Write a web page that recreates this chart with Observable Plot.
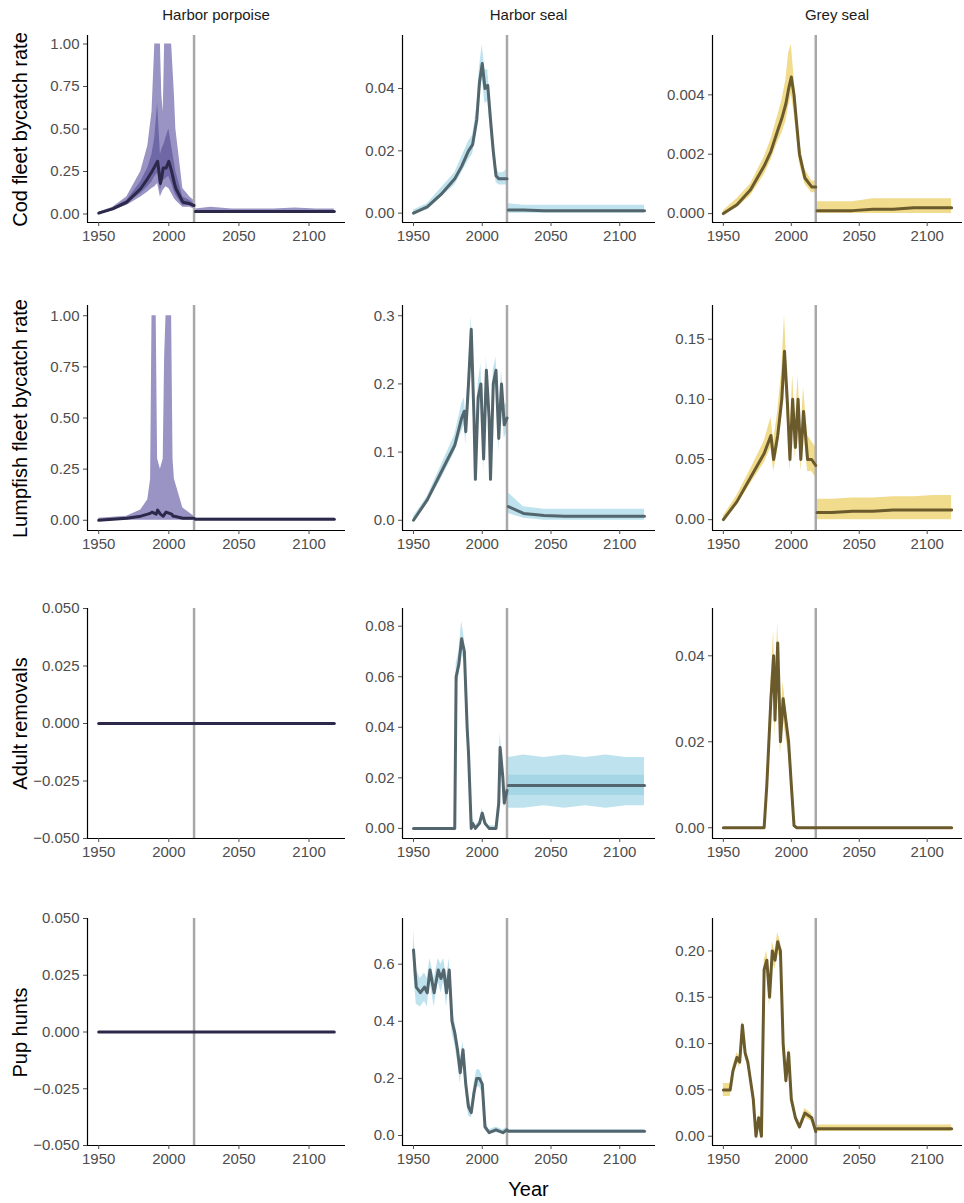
<!DOCTYPE html>
<html><head><meta charset="utf-8">
<script src="https://cdn.jsdelivr.net/npm/d3@7"></script>
<script src="https://cdn.jsdelivr.net/npm/@observablehq/plot@0.6"></script>
<style>
body{margin:0;background:#fff;font-family:"Liberation Sans",Arial,sans-serif;}
#wrap{position:relative;width:964px;height:1203px;}
.p{position:absolute;}
.p text{font-size:15px;fill:#4d4d4d;}
.t{position:absolute;font-size:15px;color:#1a1a1a;text-align:center;}
.yl{position:absolute;font-size:20px;color:#000;transform:rotate(-90deg);transform-origin:center;white-space:nowrap;text-align:center;}
</style></head><body><div id="wrap"></div>
<script>
// common year grids
const futYears = [2019, 2030, 2045, 2060, 2075, 2090, 2105, 2118];
const cutYear = 2018;

// Row 1: cod fleet bycatch rate
const codPorpYears = [1950,1960,1970,1980,1985,1988,1990,1992,1994,1995,1996,1997,1998,2000,2002,2004,2005,2010,2015,2018];
const codPorpMed  = [0.005,0.03,0.07,0.15,0.21,0.25,0.28,0.31,0.18,0.22,0.27,0.27,0.27,0.31,0.25,0.18,0.15,0.07,0.06,0.05];
const codPorpHi   = [0.01,0.04,0.10,0.25,0.40,0.6,1,1,1,0.7,0.6,1,1,1,1,0.7,0.5,0.15,0.10,0.08];
const codPorpLo   = [0,0.02,0.05,0.10,0.13,0.15,0.16,0.18,0.10,0.12,0.14,0.15,0.16,0.15,0.12,0.09,0.08,0.04,0.04,0.03];
const codPorpHi2  = [0.008,0.035,0.08,0.19,0.27,0.35,0.45,0.65,0.35,0.38,0.40,0.42,0.45,0.50,0.40,0.3,0.25,0.10,0.08,0.06];
const codPorpLo2  = [0.002,0.025,0.06,0.12,0.16,0.19,0.22,0.24,0.14,0.17,0.20,0.2,0.21,0.22,0.18,0.13,0.11,0.05,0.05,0.04];
const codPorpFutMed = [0.015,0.015,0.015,0.015,0.015,0.015,0.015,0.015];
const codPorpFutHi  = [0.03,0.04,0.03,0.03,0.03,0.035,0.03,0.03];
const codPorpFutLo  = [0.008,0.008,0.008,0.008,0.008,0.008,0.008,0.008];

const codHsYears = [1950,1960,1970,1980,1985,1990,1993,1996,1998,2000,2002,2004,2006,2008,2010,2012,2015,2018];
const codHsMed = [0,0.002,0.006,0.011,0.015,0.020,0.022,0.030,0.042,0.048,0.040,0.041,0.030,0.020,0.012,0.011,0.011,0.011];
const codHsHi  = [0.001,0.003,0.008,0.013,0.018,0.023,0.025,0.034,0.047,0.054,0.046,0.046,0.035,0.024,0.015,0.013,0.013,0.014];
const codHsLo  = [0,0.001,0.005,0.009,0.013,0.017,0.019,0.026,0.038,0.043,0.035,0.036,0.026,0.017,0.010,0.009,0.009,0.009];
const codHsFutMed = [0.001,0.001,0.0008,0.0008,0.0008,0.0008,0.0008,0.0008];
const codHsFutHi  = [0.003,0.0025,0.0025,0.0025,0.0025,0.0025,0.0025,0.0025];
const codHsFutLo  = [0,0,0,0,0,0,0,0];

const codGsYears = [1950,1960,1970,1980,1985,1990,1993,1996,1998,2000,2002,2004,2006,2010,2015,2018];
const codGsMed = [0,0.0003,0.0008,0.0016,0.0021,0.0028,0.0032,0.0037,0.0042,0.0046,0.0040,0.0030,0.0020,0.0012,0.0009,0.0009];
const codGsHi  = [0.0001,0.0005,0.0010,0.0019,0.0025,0.0033,0.0038,0.0045,0.0054,0.0057,0.0046,0.0035,0.0024,0.0015,0.0011,0.0011];
const codGsLo  = [0,0.0002,0.0006,0.0013,0.0018,0.0024,0.0027,0.0031,0.0036,0.0040,0.0034,0.0026,0.0017,0.0010,0.0007,0.0007];
const codGsFutMed = [0.0001,0.0001,0.0001,0.00015,0.00015,0.0002,0.0002,0.0002];
const codGsFutHi  = [0.0004,0.0004,0.0004,0.0005,0.0005,0.0005,0.0005,0.0005];
const codGsFutLo  = [0,0,0,0,0,0,0,0];

// Row 2: lumpfish fleet bycatch rate
const lumpPorpYears = [1950,1970,1980,1985,1987,1988,1991,1992,1994,1996,1997,1998,2002,2003,2004,2010,2018];
const lumpPorpMed = [0,0.01,0.02,0.03,0.035,0.04,0.03,0.05,0.03,0.02,0.03,0.04,0.03,0.02,0.02,0.01,0.01];
const lumpPorpHi  = [0.01,0.02,0.05,0.10,0.2,1,1,0.3,0.25,0.3,0.8,1,1,0.3,0.2,0.06,0.02];
const lumpPorpLo  = [0,0,0,0,0,0,0,0,0,0,0,0,0,0,0,0,0];
const lumpPorpFutMed = [0.005,0.005,0.005,0.005,0.005,0.005,0.005,0.005];
const lumpPorpFutHi  = [0.01,0.01,0.01,0.01,0.01,0.01,0.01,0.01];
const lumpPorpFutLo  = [0,0,0,0,0,0,0,0];

const lumpHsYears = [1950,1960,1970,1980,1985,1987,1988,1990,1992,1994,1995,1997,1999,2001,2003,2005,2006,2008,2010,2012,2014,2016,2018];
const lumpHsMed = [0,0.03,0.07,0.11,0.15,0.16,0.13,0.20,0.28,0.15,0.06,0.18,0.20,0.09,0.22,0.15,0.06,0.20,0.22,0.12,0.20,0.14,0.15];
const lumpHsHi  = [0.005,0.035,0.08,0.125,0.17,0.18,0.15,0.22,0.30,0.17,0.08,0.20,0.23,0.11,0.24,0.17,0.08,0.22,0.24,0.14,0.22,0.17,0.17];
const lumpHsLo  = [0,0.025,0.06,0.10,0.13,0.14,0.11,0.18,0.26,0.13,0.05,0.16,0.18,0.07,0.20,0.13,0.05,0.18,0.20,0.10,0.18,0.12,0.13];
const lumpHsFutMed = [0.02,0.01,0.007,0.006,0.006,0.006,0.006,0.006];
const lumpHsFutHi  = [0.04,0.02,0.016,0.016,0.016,0.016,0.016,0.016];
const lumpHsFutLo  = [0.01,0.003,0,0,0,0,0,0];

const lumpGsYears = [1950,1960,1970,1980,1985,1987,1990,1993,1995,1997,1999,2001,2003,2005,2007,2009,2012,2015,2018];
const lumpGsMed = [0,0.015,0.035,0.055,0.07,0.05,0.07,0.10,0.14,0.10,0.05,0.10,0.06,0.10,0.05,0.09,0.05,0.05,0.045];
const lumpGsHi  = [0.003,0.02,0.042,0.065,0.085,0.065,0.09,0.125,0.17,0.12,0.07,0.12,0.08,0.12,0.07,0.11,0.07,0.065,0.06];
const lumpGsLo  = [0,0.012,0.03,0.047,0.06,0.04,0.058,0.085,0.12,0.085,0.04,0.085,0.05,0.085,0.04,0.075,0.04,0.04,0.035];
const lumpGsFutMed = [0.006,0.006,0.007,0.007,0.008,0.008,0.008,0.008];
const lumpGsFutHi  = [0.017,0.017,0.018,0.018,0.019,0.019,0.02,0.02];
const lumpGsFutLo  = [0,0,0,0,0,0,0,0];

// Row 3: adult removals
const zeroYears = [1950, 2118];
const zeroMed = [0, 0];

const adHsYears = [1950,1980,1981,1983,1985,1987,1989,1990,1992,1993,1995,1998,2000,2002,2005,2010,2012,2013,2015,2016,2018];
const adHsMed = [0,0,0.06,0.065,0.075,0.07,0.04,0.03,0.0,0.002,0,0.002,0.006,0.002,0,0,0.01,0.032,0.02,0.01,0.015];
const adHsHi  = [0,0,0.065,0.07,0.082,0.075,0.045,0.034,0.002,0.004,0.001,0.003,0.008,0.003,0.001,0.001,0.013,0.038,0.024,0.013,0.018];
const adHsLo  = [0,0,0.055,0.06,0.07,0.065,0.035,0.026,0,0.001,0,0.001,0.004,0.001,0,0,0.008,0.028,0.017,0.008,0.012];
const adHsFutMed = [0.017,0.017,0.017,0.017,0.017,0.017,0.017,0.017];
const adHsFutHi  = [0.028,0.029,0.028,0.029,0.028,0.029,0.028,0.028];
const adHsFutLo  = [0.008,0.008,0.009,0.008,0.009,0.008,0.009,0.009];
const adHsFutHi2 = [0.021,0.021,0.021,0.021,0.021,0.021,0.021,0.021];
const adHsFutLo2 = [0.013,0.013,0.013,0.013,0.013,0.013,0.013,0.013];

const adGsYears = [1950,1980,1982,1985,1987,1988,1990,1992,1994,1996,1998,2000,2002,2004,2010,2118];
const adGsMed = [0,0,0.01,0.03,0.04,0.025,0.043,0.02,0.03,0.025,0.02,0.01,0.0005,0,0,0];
const adGsHi  = [0,0,0.012,0.034,0.046,0.03,0.048,0.024,0.034,0.028,0.023,0.012,0.001,0,0,0];
const adGsLo  = [0,0,0.008,0.026,0.035,0.021,0.038,0.017,0.026,0.021,0.017,0.008,0,0,0,0];

// Row 4: pup hunts
const pupHsYears = [1950,1952,1955,1958,1960,1962,1965,1968,1970,1972,1974,1976,1978,1980,1982,1984,1986,1988,1990,1992,1994,1996,1998,2000,2002,2005,2010,2015,2018];
const pupHsMed = [0.65,0.52,0.50,0.52,0.50,0.58,0.50,0.58,0.55,0.58,0.50,0.58,0.40,0.36,0.30,0.22,0.30,0.18,0.10,0.08,0.15,0.20,0.20,0.18,0.03,0.01,0.02,0.01,0.02];
const pupHsHi  = [0.72,0.58,0.55,0.57,0.55,0.62,0.55,0.62,0.60,0.62,0.55,0.62,0.44,0.40,0.34,0.26,0.33,0.21,0.13,0.10,0.18,0.23,0.23,0.21,0.05,0.02,0.03,0.02,0.03];
const pupHsLo  = [0.58,0.46,0.45,0.47,0.45,0.54,0.45,0.54,0.50,0.54,0.45,0.54,0.36,0.32,0.26,0.18,0.27,0.15,0.07,0.06,0.12,0.17,0.17,0.15,0.02,0.005,0.01,0.005,0.01];
const pupHsFutMed = [0.015,0.015,0.015,0.015,0.015,0.015,0.015,0.015];
const pupHsFutHi  = [0.02,0.02,0.02,0.02,0.02,0.02,0.02,0.02];
const pupHsFutLo  = [0.01,0.01,0.01,0.01,0.01,0.01,0.01,0.01];

const pupGsYears = [1950,1955,1957,1960,1962,1964,1966,1968,1970,1972,1974,1976,1978,1980,1982,1984,1986,1988,1990,1992,1994,1996,1998,2000,2003,2006,2010,2015,2018];
const pupGsMed = [0.05,0.05,0.07,0.085,0.08,0.12,0.09,0.08,0.06,0.04,0.0,0.02,0.0,0.18,0.19,0.15,0.20,0.19,0.21,0.20,0.10,0.06,0.09,0.04,0.02,0.01,0.025,0.02,0.005];
const pupGsHi  = [0.057,0.057,0.075,0.09,0.086,0.126,0.095,0.085,0.065,0.045,0.003,0.024,0.003,0.19,0.2,0.16,0.21,0.2,0.22,0.21,0.11,0.066,0.096,0.045,0.024,0.013,0.03,0.024,0.008];
const pupGsLo  = [0.043,0.043,0.065,0.08,0.074,0.114,0.085,0.075,0.055,0.035,0,0.016,0,0.17,0.18,0.14,0.19,0.18,0.2,0.19,0.09,0.054,0.084,0.035,0.016,0.007,0.02,0.016,0.002];
const pupGsFutMed = [0.008,0.008,0.008,0.008,0.008,0.008,0.008,0.008];
const pupGsFutHi  = [0.012,0.012,0.012,0.012,0.012,0.012,0.012,0.012];
const pupGsFutLo  = [0.005,0.005,0.005,0.005,0.005,0.005,0.005,0.005];

const colTitles = ["Harbor porpoise", "Harbor seal", "Grey seal"];
const rowLabels = ["Cod fleet bycatch rate", "Lumpfish fleet bycatch rate", "Adult removals", "Pup hunts"];

const pal = [
  {med: "#2b2849", b1: "#9994c4", b2: "#6e68a6"},
  {med: "#53666d", b1: "#bfe3ee", b2: "#a5d6e6"},
  {med: "#6b5b2c", b1: "#f1db8c", b2: "#e8c666"}
];

const rows = (xs, ...cols) => xs.map((x, i) => ({x, m: cols[0][i], lo: cols[1] ? cols[1][i] : null, hi: cols[2] ? cols[2][i] : null, lo2: cols[3] ? cols[3][i] : null, hi2: cols[4] ? cols[4][i] : null}));

const panels = [
  {r:0,c:0, hist: rows(codPorpYears, codPorpMed, codPorpLo, codPorpHi, codPorpLo2, codPorpHi2), fut: rows(futYears, codPorpFutMed, codPorpFutLo, codPorpFutHi), ticks:[0,0.25,0.5,0.75,1], fmt: d3.format(".2f"), dom:[-0.05,1.05]},
  {r:0,c:1, hist: rows(codHsYears, codHsMed, codHsLo, codHsHi), fut: rows(futYears, codHsFutMed, codHsFutLo, codHsFutHi), ticks:[0,0.02,0.04], fmt: d3.format(".2f"), dom:[-0.003,0.057]},
  {r:0,c:2, hist: rows(codGsYears, codGsMed, codGsLo, codGsHi), fut: rows(futYears, codGsFutMed, codGsFutLo, codGsFutHi), ticks:[0,0.002,0.004], fmt: d3.format(".3f"), dom:[-0.0003,0.006]},
  {r:1,c:0, hist: rows(lumpPorpYears, lumpPorpMed, lumpPorpLo, lumpPorpHi), fut: rows(futYears, lumpPorpFutMed, lumpPorpFutLo, lumpPorpFutHi), ticks:[0,0.25,0.5,0.75,1], fmt: d3.format(".2f"), dom:[-0.05,1.05]},
  {r:1,c:1, hist: rows(lumpHsYears, lumpHsMed, lumpHsLo, lumpHsHi), fut: rows(futYears, lumpHsFutMed, lumpHsFutLo, lumpHsFutHi), ticks:[0,0.1,0.2,0.3], fmt: d3.format(".1f"), dom:[-0.015,0.315]},
  {r:1,c:2, hist: rows(lumpGsYears, lumpGsMed, lumpGsLo, lumpGsHi), fut: rows(futYears, lumpGsFutMed, lumpGsFutLo, lumpGsFutHi), ticks:[0,0.05,0.1,0.15], fmt: d3.format(".2f"), dom:[-0.009,0.178]},
  {r:2,c:0, hist: rows(zeroYears, zeroMed), fut: [], ticks:[-0.05,-0.025,0,0.025,0.05], fmt: d3.format(".3f"), dom:[-0.05,0.05]},
  {r:2,c:1, hist: rows(adHsYears, adHsMed, adHsLo, adHsHi), fut: rows(futYears, adHsFutMed, adHsFutLo, adHsFutHi, adHsFutLo2, adHsFutHi2), ticks:[0,0.02,0.04,0.06,0.08], fmt: d3.format(".2f"), dom:[-0.004,0.087]},
  {r:2,c:2, hist: rows(adGsYears, adGsMed, adGsLo, adGsHi), fut: [], ticks:[0,0.02,0.04], fmt: d3.format(".2f"), dom:[-0.0025,0.051]},
  {r:3,c:0, hist: rows(zeroYears, zeroMed), fut: [], ticks:[-0.05,-0.025,0,0.025,0.05], fmt: d3.format(".3f"), dom:[-0.05,0.05]},
  {r:3,c:1, hist: rows(pupHsYears, pupHsMed, pupHsLo, pupHsHi), fut: rows(futYears, pupHsFutMed, pupHsFutLo, pupHsFutHi), ticks:[0,0.2,0.4,0.6], fmt: d3.format(".1f"), dom:[-0.035,0.76]},
  {r:3,c:2, hist: rows(pupGsYears, pupGsMed, pupGsLo, pupGsHi), fut: rows(futYears, pupGsFutMed, pupGsFutLo, pupGsFutHi), ticks:[0,0.05,0.1,0.15,0.2], fmt: d3.format(".2f"), dom:[-0.01,0.235]}
];

// layout: [top of svg, axis top, axis bottom]
const rowGeo = [[20,35,222],[290,305,530],[593,608,838],[903,918,1145]];
const colGeo = [[25,87,345],[335,402,655],[645,712,962]];
const xDom = [1942, 2126];

const wrap = document.getElementById("wrap");
panels.forEach(p => {
  const [top, yt, yb] = rowGeo[p.r];
  const [left, xl, xr] = colGeo[p.c];
  const col = pal[p.c];
  const width = xr - left, height = yb - top + 34;
  const band = (data, lo, hi, fill) => data.length && data[0][lo] != null ? [Plot.areaY(data, {x: "x", y1: lo, y2: hi, fill, curve: "linear"})] : [];
  const chart = Plot.plot({
    width, height,
    marginLeft: xl - left, marginRight: 0, marginTop: yt - top, marginBottom: 34,
    style: {fontFamily: "Liberation Sans, Arial, sans-serif", fontSize: "15px", color: "#4d4d4d"},
    x: {domain: xDom},
    y: {domain: p.dom},
    marks: [
      ...band(p.hist, "lo", "hi", col.b1),
      ...band(p.hist, "lo2", "hi2", col.b2),
      ...band(p.fut, "lo", "hi", col.b1),
      ...band(p.fut, "lo2", "hi2", col.b2),
      Plot.ruleX([cutYear], {stroke: "#a8a8a8", strokeWidth: 2.5}),
      Plot.line(p.hist, {x: "x", y: "m", stroke: col.med, strokeWidth: 3}),
      Plot.line(p.fut, {x: "x", y: "m", stroke: col.med, strokeWidth: 3}),
      Plot.ruleX([xDom[0]], {stroke: "#000", strokeWidth: 1.2}),
      Plot.ruleY([p.dom[0]], {stroke: "#000", strokeWidth: 1.2}),
      Plot.axisX({ticks: [1950, 2000, 2050, 2100], tickFormat: d => String(d), label: null, tickSize: 4, tickPadding: 4}),
      Plot.axisY({ticks: p.ticks, tickFormat: p.fmt, label: null, tickSize: 4, tickPadding: 4})
    ]
  });
  chart.classList.add("p");
  chart.style.left = left + "px";
  chart.style.top = top + "px";
  wrap.appendChild(chart);
});

colTitles.forEach((t, i) => {
  const d = document.createElement("div");
  d.className = "t";
  d.textContent = t;
  d.style.left = colGeo[i][1] + "px";
  d.style.width = (colGeo[i][2] - colGeo[i][1]) + "px";
  d.style.top = "6px";
  wrap.appendChild(d);
});
rowLabels.forEach((t, i) => {
  const d = document.createElement("div");
  d.className = "yl";
  d.textContent = t;
  const mid = (rowGeo[i][1] + rowGeo[i][2]) / 2;
  d.style.width = "300px";
  d.style.left = (20 - 150) + "px";
  d.style.top = (mid - 11) + "px";
  wrap.appendChild(d);
});
const yr = document.createElement("div");
yr.className = "t";
yr.style.fontSize = "20px";
yr.style.color = "#000";
yr.textContent = "Year";
yr.style.left = "402px"; yr.style.width = "253px"; yr.style.top = "1178px";
wrap.appendChild(yr);
</script></body></html>
